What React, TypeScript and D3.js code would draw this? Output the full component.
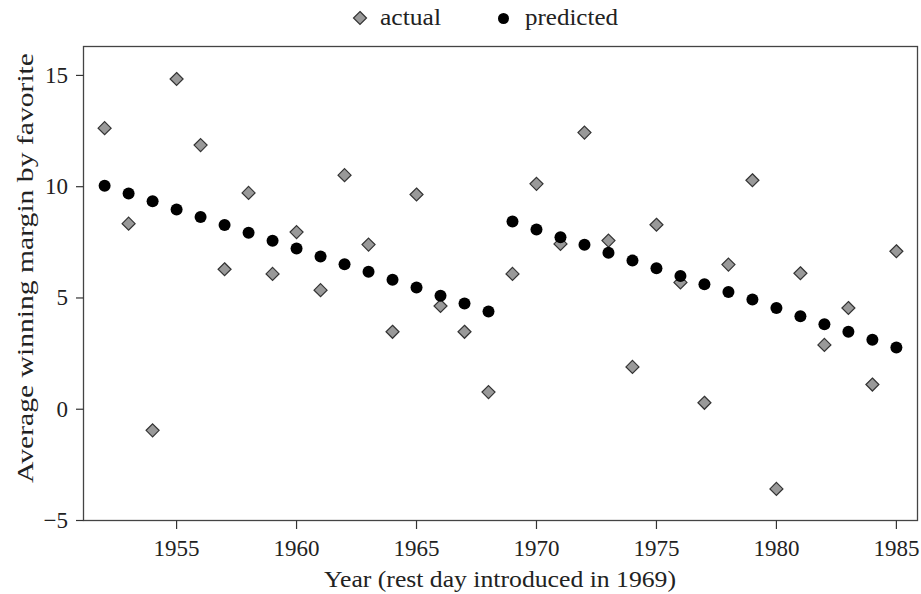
import React from "react";
import * as d3 from "d3";

const years: number[] = [
  1952, 1953, 1954, 1955, 1956, 1957, 1958, 1959, 1960, 1961, 1962, 1963,
  1964, 1965, 1966, 1967, 1968, 1969, 1970, 1971, 1972, 1973, 1974, 1975,
  1976, 1977, 1978, 1979, 1980, 1981, 1982, 1983, 1984, 1985,
];

const actual: number[] = [
  12.63, 8.34, -0.95, 14.84, 11.87, 6.29, 9.72, 6.08, 7.96, 5.35, 10.52, 7.4,
  3.48, 9.65, 4.64, 3.48, 0.77, 6.08, 10.13, 7.43, 12.43, 7.58, 1.9, 8.29,
  5.7, 0.29, 6.5, 10.29, -3.58, 6.11, 2.89, 4.55, 1.11, 7.1,
];

const predicted: number[] = [
  10.04, 9.69, 9.35, 8.98, 8.64, 8.28, 7.93, 7.57, 7.22, 6.86, 6.51, 6.18,
  5.82, 5.47, 5.1, 4.75, 4.39, 8.44, 8.08, 7.73, 7.39, 7.03, 6.68, 6.33,
  5.99, 5.62, 5.27, 4.93, 4.55, 4.18, 3.82, 3.48, 3.12, 2.77,
];

const xTicks: number[] = [1955, 1960, 1965, 1970, 1975, 1980, 1985];
const yTicks: number[] = [-5, 0, 5, 10, 15];

const W = 921;
const H = 594;
const left = 83.5;
const right = 917.5;
const top = 46.5;
const bottom = 520.5;

const FONT = "'Liberation Serif', 'DejaVu Serif', serif";

export default function App() {
  const x = d3.scaleLinear().domain([1951.12, 1985.88]).range([left, right]);
  const y = d3.scaleLinear().domain([-5, 16.3]).range([bottom, top]);
  const fmt = (v: number) => (v < 0 ? "\u2212" + Math.abs(v) : String(v));
  const diamond = (cx: number, cy: number, r: number) =>
    `M${cx},${cy - r}L${cx + r},${cy}L${cx},${cy + r}L${cx - r},${cy}Z`;

  return (
    <svg
      width={W}
      height={H}
      style={{ position: "absolute", left: 0, top: 0, background: "#fff" }}
      fontFamily={FONT}
    >
      {/* legend */}
      <path d={diamond(360, 18, 6.5)} fill="#999" stroke="#333" strokeWidth={1.2} />
      <text x={380} y={24.5} fontSize={23} fill="#222" textLength={61} lengthAdjust="spacingAndGlyphs">
        actual
      </text>
      <circle cx={503.5} cy={18.5} r={5.5} fill="#000" />
      <text x={525} y={24.5} fontSize={23} fill="#222" textLength={93} lengthAdjust="spacingAndGlyphs">
        predicted
      </text>

      {/* frame */}
      <rect
        x={left}
        y={top}
        width={right - left}
        height={bottom - top}
        fill="none"
        stroke="#444"
        strokeWidth={1.3}
      />

      {/* y ticks */}
      {yTicks.map((t) => (
        <g key={"y" + t}>
          <line x1={left - 7.5} x2={left} y1={y(t)} y2={y(t)} stroke="#333" strokeWidth={1.2} />
          <text x={68} y={y(t) + 7.5} textAnchor="end" fontSize={23} fill="#222">
            {fmt(t)}
          </text>
        </g>
      ))}

      {/* x ticks */}
      {xTicks.map((t) => (
        <g key={"x" + t}>
          <line x1={x(t)} x2={x(t)} y1={bottom} y2={bottom + 8.5} stroke="#333" strokeWidth={1.2} />
          <text x={x(t)} y={556} textAnchor="middle" fontSize={23} fill="#222">
            {t}
          </text>
        </g>
      ))}

      {/* axis titles */}
      <text
        x={500}
        y={587}
        textAnchor="middle"
        fontSize={23.5}
        fill="#222"
        textLength={352}
        lengthAdjust="spacingAndGlyphs"
      >
        Year (rest day introduced in 1969)
      </text>
      <text
        transform={`translate(33,${268}) rotate(-90)`}
        textAnchor="middle"
        fontSize={23.5}
        fill="#222"
        textLength={430}
        lengthAdjust="spacingAndGlyphs"
      >
        Average winning margin by favorite
      </text>

      {/* actual */}
      {years.map((yr, i) => (
        <path
          key={"a" + yr}
          d={diamond(x(yr), y(actual[i]), 6.5)}
          fill="#999"
          stroke="#333"
          strokeWidth={1.2}
        />
      ))}

      {/* predicted */}
      {years.map((yr, i) => (
        <circle key={"p" + yr} cx={x(yr)} cy={y(predicted[i])} r={6} fill="#000" />
      ))}
    </svg>
  );
}
